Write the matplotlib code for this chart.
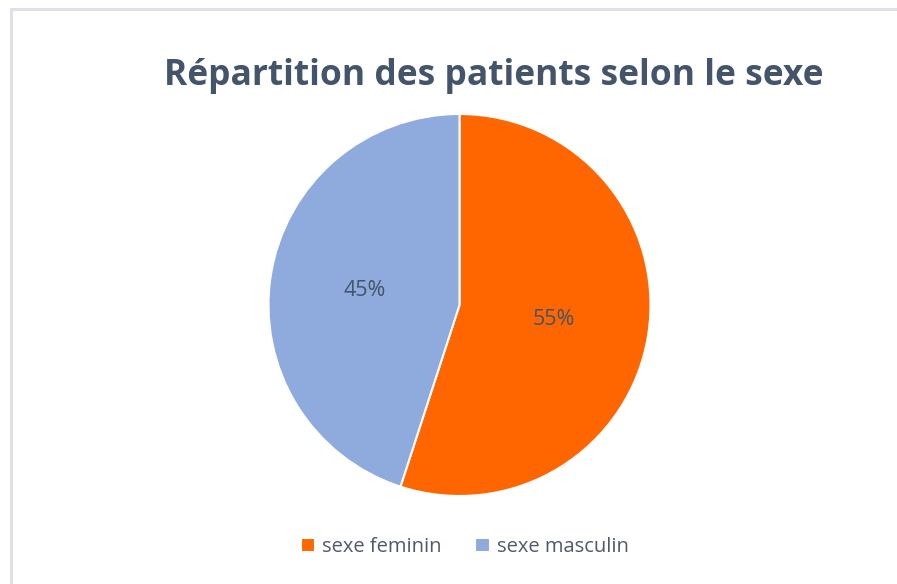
import matplotlib
matplotlib.use("Agg")
import matplotlib.pyplot as plt
from matplotlib.lines import Line2D

categories = ["sexe feminin", "sexe masculin"]
values = [55, 45]
colors = ["#FF6600", "#8FAADC"]
title = "Répartition des patients selon le sexe"

W, H = 897, 584
fig = plt.figure(figsize=(W / 100, H / 100), dpi=100)
fig.patch.set_facecolor("white")

# chart border (top and left)
fig.add_artist(Line2D([10.5 / W, 1], [1 - 9 / H, 1 - 9 / H], color="#DDE0E8", lw=2.2))
fig.add_artist(Line2D([10.5 / W, 10.5 / W], [0, 1 - 9 / H], color="#DDE0E8", lw=2.2))

cx, cy, r = 459.5, 305, 191
ax = fig.add_axes([(cx - r) / W, (H - cy - r) / H, 2 * r / W, 2 * r / H])

wedges, texts, autotexts = ax.pie(
    values, colors=colors, startangle=90, counterclock=False, radius=1,
    autopct="%d%%", pctdistance=0.5,
    wedgeprops=dict(edgecolor="white", linewidth=1.5),
    textprops=dict(color="#44546A", fontsize=15.5, family="Open Sans"),
)
ax.set_xlim(-1, 1)
ax.set_ylim(-1, 1)
ax.axis("off")

fig.text(493.5 / W, 1 - 76 / H, title, ha="center", va="center",
         fontsize=25.5, fontweight="bold", color="#44546A", family="Open Sans")

leg = fig.legend(wedges, categories, loc="center",
                 bbox_to_anchor=(464.5 / W, 1 - 547 / H), ncol=2, frameon=False,
                 handlelength=0.7, handleheight=0.7, handletextpad=0.35,
                 columnspacing=1.7,
                 prop=dict(family="Open Sans", size=14.5))
for t in leg.get_texts():
    t.set_color("#505A6B")

fig.savefig("out.png", dpi=100, facecolor="white")
